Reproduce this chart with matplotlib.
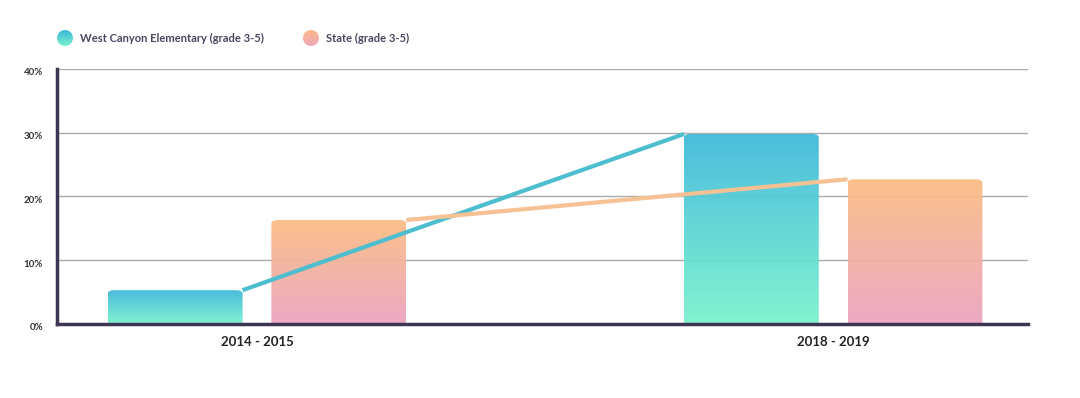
import numpy as np
import matplotlib
matplotlib.use("Agg")
import matplotlib.pyplot as plt
import matplotlib.transforms as mtransforms
from matplotlib.path import Path
from matplotlib.patches import PathPatch, Circle
from matplotlib.colors import LinearSegmentedColormap

categories = ["2014 - 2015", "2018 - 2019"]
series_names = ["West Canyon Elementary (grade 3-5)", "State (grade 3-5)"]
school_values = [5.3, 29.8]
state_values = [16.3, 22.7]
y_ticks = [0, 10, 20, 30, 40]
y_tick_labels = ["0%", "10%", "20%", "30%", "40%"]

plt.rcParams['font.family'] = ['Lato', 'DejaVu Sans']

fig = plt.figure(figsize=(10.8, 3.98), dpi=100)
ax = fig.add_axes([0.0528, 0.186, 0.899, 0.6407])
ax.set_xlim(-0.347, 1.338)
ax.set_ylim(0, 40)

teal_top, teal_bot = "#3db8da", "#7af2cd"
orng_top, orng_bot = "#fbbc82", "#eaa3c0"
cmap_teal = LinearSegmentedColormap.from_list("t", [teal_bot, teal_top])
cmap_orng = LinearSegmentedColormap.from_list("o", [orng_bot, orng_top])

for y in y_ticks[1:]:
    ax.axhline(y, color="#aaaaaa", lw=1.0, zorder=1)

width = 0.234
offset = 0.142

def rounded_bar(x0, w, h, rx, ry):
    verts = [(x0, 0), (x0, h - ry), (x0, h), (x0 + rx, h),
             (x0 + w - rx, h), (x0 + w, h), (x0 + w, h - ry),
             (x0 + w, 0), (x0, 0)]
    codes = [Path.MOVETO, Path.LINETO, Path.CURVE3, Path.CURVE3,
             Path.LINETO, Path.CURVE3, Path.CURVE3, Path.LINETO, Path.CLOSEPOLY]
    return Path(verts, codes)

grad = np.linspace(0, 1, 256).reshape(-1, 1)
rx = 0.012
ry = 0.55

def draw_bar(xc, h, cmap):
    x0 = xc - width / 2
    p = rounded_bar(x0, width, h, rx, ry)
    patch = PathPatch(p, facecolor="none", edgecolor="none", transform=ax.transData)
    ax.add_patch(patch)
    im = ax.imshow(grad, extent=[x0, x0 + width, 0, h], origin="lower",
                   cmap=cmap, aspect="auto", zorder=2, alpha=0.93,
                   interpolation="bilinear")
    im.set_clip_path(patch)

xs = np.arange(len(categories))
for i in xs:
    draw_bar(i - offset, school_values[i], cmap_teal)
    draw_bar(i + offset, state_values[i], cmap_orng)

ax.plot([xs[0] - offset + width / 2, xs[1] - offset - width / 2],
        school_values, color="#4dbdd0", lw=3, zorder=3, solid_capstyle="butt")
ax.plot([xs[0] + offset + width / 2, xs[1] + offset - width / 2],
        state_values, color="#f6c294", lw=3, zorder=3, solid_capstyle="butt")

ax.set_xticks(xs)
ax.set_xticklabels(categories, fontsize=9.5, color="#222222", fontweight="bold")
ax.set_yticks(y_ticks)
ax.set_yticklabels(y_tick_labels, fontsize=7, color="#333333", fontweight="bold")
ax.tick_params(axis="both", length=0)
ax.tick_params(axis="x", pad=9)
ax.tick_params(axis="y", pad=10)
shift = mtransforms.ScaledTranslation(0, -3 / 100, fig.dpi_scale_trans)
for lab in ax.get_yticklabels():
    lab.set_transform(lab.get_transform() + shift)

for s in ["top", "right"]:
    ax.spines[s].set_visible(False)
for s in ["left", "bottom"]:
    ax.spines[s].set_color("#3e3554")
    ax.spines[s].set_linewidth(2.5)
    ax.spines[s].set_zorder(5)

# legend
cmaps = [cmap_teal, LinearSegmentedColormap.from_list("l", ["#eea6b8", "#fbb98a"])]
leg_x = [65, 311]
for j, (x, name) in enumerate(zip(leg_x, series_names)):
    cy_px = 398 - 38
    lax = fig.add_axes([(x - 8) / 1080, (cy_px - 8) / 398, 16 / 1080, 16 / 398])
    lax.set_axis_off()
    lax.set_xlim(-1, 1)
    lax.set_ylim(-1, 1)
    circ = Circle((0, 0), 1, transform=lax.transData, facecolor="none", edgecolor="none")
    lax.add_patch(circ)
    im = lax.imshow(grad, extent=[-1, 1, -1, 1], origin="lower", cmap=cmaps[j],
                    aspect="auto", interpolation="bilinear")
    im.set_clip_path(circ)
    fig.text((x + 15) / 1080, cy_px / 398, name, fontsize=8, color="#4a4560",
             fontweight="bold", va="center", ha="left")

fig.savefig("out.png", dpi=100, facecolor="white")
